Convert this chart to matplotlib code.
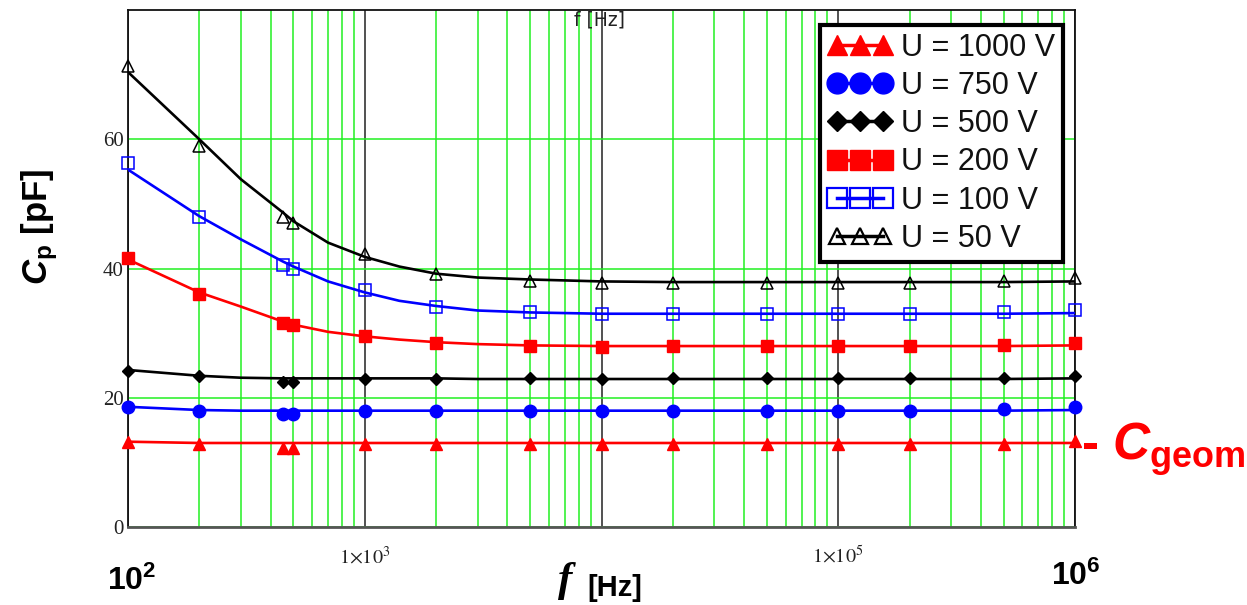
import matplotlib
matplotlib.use("Agg")
import matplotlib.pyplot as plt
from matplotlib.lines import Line2D
from matplotlib.ticker import FixedLocator, NullFormatter

plt.rcParams['mathtext.fontset'] = 'custom'
plt.rcParams['mathtext.it'] = 'Liberation Sans:italic:bold'
plt.rcParams['mathtext.rm'] = 'Liberation Sans:bold'
plt.rcParams['mathtext.bf'] = 'Liberation Sans:bold'

# ---------------- data ----------------
freq = [100, 200, 450, 500, 1000, 2000, 5000, 1e4, 2e4, 5e4, 1e5, 2e5, 5e5, 1e6]
c1000 = [13.2, 12.8, 12.2, 12.2, 12.8, 12.8, 12.8, 12.8, 12.8, 12.8, 12.8, 12.8, 12.9, 13.3]
c750 = [18.6, 18.0, 17.5, 17.5, 18.0, 18.0, 18.0, 18.0, 18.0, 18.0, 18.0, 18.0, 18.2, 18.6]
c500 = [24.2, 23.3, 22.5, 22.5, 22.9, 22.9, 23.1, 22.9, 23.0, 23.0, 23.0, 23.0, 23.1, 23.4]
c200 = [41.7, 36.1, 31.5, 31.2, 29.5, 28.5, 28.0, 27.9, 28.0, 28.0, 28.0, 28.0, 28.2, 28.4]
c100 = [56.3, 47.9, 40.5, 40.0, 36.6, 34.1, 33.2, 33.0, 33.0, 33.0, 33.0, 33.0, 33.2, 33.6]
c50 = [71.4, 58.9, 48.0, 47.1, 42.2, 39.2, 38.1, 37.8, 37.8, 37.8, 37.8, 37.8, 38.0, 38.6]

# smoothed fit curves
fit_freq = [100, 200, 300, 450, 500, 700, 1000, 1400, 2000, 3000, 5000,
            1e4, 2e4, 5e4, 1e5, 2e5, 5e5, 1e6]
fit1000 = [13.2, 13.0, 13.0, 13.0, 13.0, 13.0, 13.0, 13.0, 13.0, 13.0, 13.0,
           13.0, 13.0, 13.0, 13.0, 13.0, 13.0, 13.0]
fit750 = [18.6, 18.1, 18.0, 18.0, 18.0, 18.0, 18.0, 18.0, 18.0, 18.0, 18.0,
          18.0, 18.0, 18.0, 18.0, 18.0, 18.0, 18.1]
fit500 = [24.3, 23.4, 23.1, 23.0, 23.0, 23.0, 23.0, 23.0, 23.0, 22.9, 22.9,
          22.9, 22.9, 22.9, 22.9, 22.9, 22.9, 23.0]
fit200 = [41.4, 36.3, 34.1, 31.8, 31.3, 30.2, 29.5, 29.0, 28.6, 28.3, 28.1,
          28.0, 28.0, 28.0, 28.0, 28.0, 28.0, 28.1]
fit100 = [55.3, 48.1, 44.5, 41.1, 40.3, 38.0, 36.3, 35.0, 34.2, 33.5, 33.2,
          33.0, 33.0, 33.0, 33.0, 33.0, 33.0, 33.1]
fit50 = [70.4, 60.0, 53.8, 48.7, 47.3, 44.0, 41.8, 40.3, 39.2, 38.6, 38.3,
         38.0, 37.9, 37.9, 37.9, 37.9, 37.9, 38.0]

labels = ["U = 1000 V", "U = 750 V", "U = 500 V", "U = 200 V", "U = 100 V", "U = 50 V"]
yticks = [0, 20, 40, 60]
xtick_pos = [1e2, 1e3, 1e4, 1e5, 1e6]
xtick_lab = ["", r"$1{\times}10^{3}$", "", r"$1{\times}10^{5}$", ""]

RED = '#ff0000'
BLUE = '#0000ff'
GREEN = '#22f022'

fig = plt.figure(figsize=(12.47, 6.05), dpi=100)
ax = fig.add_axes([128/1247, 1-527/605, (1075-128)/1247, (527-10)/605])

ax.set_xscale('log')
ax.set_xlim(1e2, 1e6)
ax.set_ylim(0, 80)

series = [
    (c1000, fit1000, RED, '^', 9, RED, RED, 1.0),
    (c750, fit750, BLUE, 'o', 9, BLUE, BLUE, 1.0),
    (c500, fit500, 'black', 'D', 6.5, 'black', 'black', 1.0),
    (c200, fit200, RED, 's', 9, RED, RED, 1.0),
    (c100, fit100, BLUE, 's', 9, 'none', BLUE, 1.1),
    (c50, fit50, 'black', '^', 9, 'none', 'black', 1.1),
]
for vals, fit, col, mk, ms, fc, ec, mew in series:
    ax.plot(fit_freq, fit, color=col, lw=1.9, zorder=3)
    ax.plot(freq, vals, linestyle='none', marker=mk, ms=ms, mfc=fc, mec=ec,
            mew=mew, zorder=4, clip_on=False)

handles = []
leg_sizes = [14, 15, 10, 15, 14, 11]
for (vals, fit, col, mk, ms, fc, ec, mew), lms in zip(series, leg_sizes):
    handles.append(Line2D([], [], color=col, lw=2.5, marker=mk, ms=lms,
                          mfc=fc, mec=ec, mew=1.6 if fc == 'none' else 1.0))

# grid
ax.xaxis.set_major_locator(FixedLocator(xtick_pos))
minor = [m * 10**d for d in range(2, 6) for m in range(2, 10)]
ax.xaxis.set_minor_locator(FixedLocator(minor))
ax.xaxis.set_minor_formatter(NullFormatter())
ax.set_xticklabels(xtick_lab, math_fontfamily='stix', fontsize=14.5, color='#222222')
ax.set_yticks(yticks)
ax.set_yticklabels([str(v) for v in yticks], family='Liberation Serif', fontsize=15,
                   color='#222222')
ax.tick_params(axis='both', which='both', length=0)
ax.tick_params(axis='x', which='major', pad=13)
ax.tick_params(axis='y', which='major', pad=3)
ax.grid(True, which='minor', axis='x', color=GREEN, lw=1.1, zorder=1)
ax.grid(True, which='major', axis='x', color='#333333', lw=1.2, zorder=1)
ax.grid(True, which='major', axis='y', color=GREEN, lw=1.1, zorder=1)
ax.set_axisbelow(True)

for side in ['top', 'right', 'left']:
    ax.spines[side].set_color('#111111')
    ax.spines[side].set_linewidth(1.3)
ax.spines['bottom'].set_color('#555555')
ax.spines['bottom'].set_linewidth(2.0)

leg = ax.legend(handles, labels, loc='upper right',
                bbox_to_anchor=(1063/1247, 1-25/605), bbox_transform=fig.transFigure,
                borderaxespad=0, numpoints=3, handlelength=2.1, handletextpad=0.3,
                labelspacing=0.27, borderpad=0.25, fancybox=False, framealpha=1,
                edgecolor='black', prop={'family': 'Liberation Sans', 'size': 22})
leg.get_frame().set_linewidth(3)
leg.set_zorder(10)
for t in leg.get_texts():
    t.set_color('#111111')

# texts
ax.text(0.498, 0.981, "f [Hz]", transform=ax.transAxes, ha='center', va='center',
        family='DejaVu Sans', fontsize=13.5, color='#222222', zorder=5)

fig.text(565/1247, 1-591/605, "f", family='Liberation Serif', style='italic',
         weight='bold', fontsize=31, ha='center', va='baseline')
fig.text(587/1247, 1-596/605, "[Hz]", family='Liberation Sans', weight='bold',
         fontsize=21, ha='left', va='baseline')

fig.text(107/1247, 1-590/605, r"$\mathbf{10^{2}}$", fontsize=23, ha='left', va='baseline')
fig.text(1051/1247, 1-585/605, r"$\mathbf{10^{6}}$", fontsize=23, ha='left', va='baseline')

fig.text(40/1247, 1-227/605, r"$\mathit{C}_{\mathrm{p}}$ [pF]", rotation=90,
         family='Liberation Sans', weight='bold', fontsize=25, ha='center', va='center')

fig.text(1081/1247, 1-460/605, r"- $\mathit{C}_{\mathrm{geom}}$", color=RED,
         family='Liberation Sans', weight='bold', fontsize=37, ha='left', va='baseline')

fig.savefig("out.png", dpi=100)
